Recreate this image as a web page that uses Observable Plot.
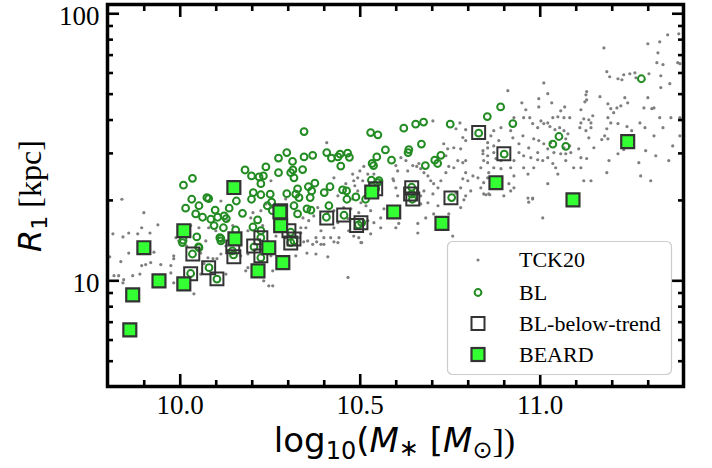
<!DOCTYPE html>
<html>
<head>
<meta charset="utf-8">
<script src="https://cdn.jsdelivr.net/npm/d3@7"></script>
<script src="https://cdn.jsdelivr.net/npm/@observablehq/plot@0.6"></script>
<style>
html, body { margin: 0; padding: 0; background: #ffffff; }
#chart { width: 712px; height: 468px; overflow: hidden; }
</style>
</head>
<body>
<div id="chart"></div>
<script>
// ---------- data ----------
const tckMass = [9.804,9.857,9.835,9.816,9.829,9.843,9.841,9.868,9.888,9.893,9.904,9.918,9.946,9.974,9.974,9.982,9.982,9.927,9.982,10.038,
9.996,10.057,10.091,10.102,10.113,10.066,10.057,10.127,10.182,10.232,10.246,10.257,10.257,10.321,10.168,10.188,10.252,10.352,10.410,10.466,
10.504,10.391,10.379,10.427,10.438,10.343,9.838,9.899,9.938,9.893,9.882,9.857,9.841,9.813,9.916,9.910,9.988,10.018,10.052,10.079,
10.132,10.146,10.188,10.202,10.224,10.238,10.196,10.188,10.077,10.271,10.293,10.788,10.779,10.849,10.860,10.899,10.918,10.968,10.979,11.007,
10.807,10.407,10.427,10.499,10.510,10.485,10.493,10.604,10.593,10.599,10.604,10.593,10.604,10.607,10.599,10.557,10.557,10.529,10.566,10.521,
10.502,10.482,10.468,10.441,10.438,10.418,10.399,10.391,10.377,10.357,10.349,10.335,10.329,10.368,10.377,10.632,10.646,10.657,10.668,10.677,
10.688,10.696,10.704,10.716,10.724,10.738,10.746,10.760,10.771,10.785,10.793,10.793,10.785,10.779,10.766,10.799,10.813,10.827,10.835,10.843,
10.854,10.877,10.871,10.857,10.843,10.835,10.793,10.757,10.724,10.660,10.660,10.682,10.704,10.746,10.716,10.688,10.668,10.668,10.677,10.702,
10.779,10.793,10.785,10.760,10.743,10.738,10.716,10.702,10.777,10.766,10.841,10.854,10.871,10.885,10.854,10.793,10.732,10.663,10.627,10.613,
10.599,10.591,10.557,10.538,10.521,10.507,10.493,10.479,10.482,10.460,10.438,10.479,10.502,10.516,10.496,10.474,10.454,10.427,10.410,10.382,
10.371,10.341,10.466,10.502,10.529,10.538,10.427,10.496,10.335,10.399,10.354,10.316,10.293,11.354,11.332,11.299,11.177,11.327,11.324,11.341,
11.382,11.388,11.185,11.193,11.216,11.227,11.232,11.249,11.263,11.266,11.302,11.335,11.360,11.010,10.910,11.021,11.129,11.127,11.166,11.235,
11.243,11.188,11.224,11.213,11.196,11.299,11.288,11.316,11.310,11.332,11.363,11.388,11.341,11.316,11.388,11.277,11.291,11.254,11.241,11.216,
11.196,11.188,11.204,11.185,11.179,11.188,11.171,11.129,11.124,11.113,11.121,11.113,11.110,11.141,11.141,11.146,11.135,11.127,11.135,11.149,
11.129,11.113,11.107,11.082,11.085,11.071,11.071,11.077,11.082,11.066,11.068,11.049,11.041,11.035,11.021,11.027,11.002,11.010,10.993,10.979,
10.971,10.954,10.949,10.960,10.996,10.996,11.032,11.054,11.057,11.066,10.927,10.918,10.891,10.871,10.863,10.854,10.871,10.891,10.918,10.891,
10.927,10.913,10.927,10.966,10.982,10.993,11.007,11.021,11.035,11.043,11.021,11.049,11.057,11.071,11.093,11.113,11.121,11.141,11.185,11.191,
11.216,11.232,11.274,11.293,10.966,10.979,10.843,10.857,10.854,10.841,10.924,10.941,10.952,10.968,10.982,10.996,11.010,11.021,11.029,10.993,
10.954,10.941,10.927,10.954,10.974,11.066,11.038,11.335,11.321,11.357,11.368,11.279,11.307,11.385,10.099,10.168,10.229,10.266,10.293,10.252,
10.127,10.071,10.029,10.154,10.113,10.252];
const tckR = [12.3,12.7,11.8,10.45,10.45,10.1,9.83,10.45,10.6,11.4,11.5,11.7,11.5,11.4,10.7,12.4,12.1,12.8,9.83,8.94,
14.1,12.7,12.1,12.1,12.6,11.6,10.6,10.6,10.9,10.0,9.58,9.58,10.9,12.4,12.4,12.6,12.4,12.7,12.3,10.3,
13.9,13.7,14.0,14.0,13.9,14.0,20.2,18.0,16.2,15.8,15.0,15.1,14.6,15.0,15.1,13.2,14.5,13.5,15.8,15.8,
16.8,16.1,15.4,18.0,18.3,19.4,17.2,11.2,12.2,16.8,20.25,20.1,18.8,21.0,21.0,20.8,21.7,19.7,20.4,17.2,
21.7,32.9,24.3,25.8,26.8,22.7,21.7,25.8,23.7,22.3,20.8,18.8,17.8,16.4,15.8,17.2,15.8,15.0,18.6,16.8,
13.9,14.7,15.4,14.5,16.5,14.5,14.5,15.4,14.5,16.8,15.8,15.8,14.5,13.7,12.6,25.8,27.0,26.8,26.3,25.4,
24.7,23.7,23.1,22.3,23.7,25.4,26.8,26.5,28.2,27.7,28.2,25.4,24.1,22.3,21.3,23.7,24.7,24.3,26.5,28.2,
29.4,28.7,26.5,25.4,23.3,22.3,20.8,14.7,15.8,16.4,15.1,17.2,17.8,17.8,19.1,19.6,19.4,20.8,21.7,21.15,
31.2,33.5,34.4,31.5,31.2,29.4,28.9,39.7,39.0,37.1,30.7,32.9,32.0,33.5,27.7,36.8,32.6,27.5,28.2,28.9,
27.0,24.1,23.7,25.1,25.1,23.7,24.3,25.1,23.7,23.1,20.8,20.25,19.6,19.1,18.0,18.6,18.8,18.3,18.0,18.8,
17.5,17.2,17.1,16.1,18.3,16.5,15.8,14.5,15.1,13.7,14.1,15.1,14.5,83.4,78.5,77.2,74.5,71.4,65.6,64.5,
65.6,65.0,60.7,58.1,57.1,56.6,59.1,59.6,60.1,57.6,59.6,58.6,54.7,55.1,51.5,50.2,51.1,49.7,48.9,48.5,
46.4,46.0,45.2,44.4,44.1,48.5,44.4,44.4,44.1,40.8,40.8,40.8,37.45,34.9,34.9,39.0,37.45,36.5,37.8,38.8,
39.0,40.8,42.6,37.1,34.9,34.0,33.8,47.6,46.8,43.7,40.4,39.0,37.45,37.45,39.0,41.5,40.1,36.5,34.3,31.5,
28.7,28.9,31.2,32.0,30.2,29.9,34.0,35.5,40.8,40.8,44.8,41.1,36.8,40.8,39.0,37.8,39.7,38.8,37.45,38.8,
40.8,40.8,46.4,43.7,44.8,48.1,46.4,37.45,43.3,36.5,40.8,36.5,37.45,36.5,34.9,31.45,30.2,28.2,26.5,26.3,
24.7,23.1,22.3,25.1,26.5,28.4,28.2,28.9,27.5,26.5,23.1,25.1,29.9,28.2,26.5,26.5,23.7,23.7,25.4,28.2,
29.9,31.0,27.7,30.7,20.4,20.25,21.15,21.15,24.3,29.9,34.3,32.6,34.9,31.45,34.0,33.5,32.6,31.2,32.9,30.2,
29.4,30.2,28.2,26.5,28.9,31.45,30.2,52.9,29.4,28.2,32.0,24.7,23.7,84.1,15.4,14.7,16.1,14.7,17.5,13.5,
13.5,14.1,16.1,22.7,19.9,23.7];

const blMass = [10.009,10.034,10.032,10.015,10.074,10.079,10.052,10.043,10.062,10.097,10.104,10.085,10.094,10.122,10.128,10.120,10.136,10.156,10.173,10.180,
10.198,10.219,10.231,10.238,10.224,10.203,10.198,10.224,10.250,10.273,10.296,10.312,10.307,10.316,10.273,10.254,10.242,10.256,10.296,10.326,
10.330,10.215,10.202,10.224,10.046,10.052,10.110,10.113,10.154,10.008,10.034,10.145,10.148,10.205,10.224,10.313,10.344,10.344,10.368,10.340,
10.321,10.356,10.374,10.365,10.361,10.352,10.363,10.326,10.316,10.407,10.420,10.438,10.444,10.465,10.470,10.446,10.416,10.400,10.451,10.462,
10.463,10.488,10.515,10.413,10.455,10.406,10.495,10.504,10.529,10.549,10.546,10.570,10.587,10.533,10.537,10.531,10.548,10.552,10.621,10.654,
10.676,10.670,10.635,10.633,10.681,10.707,10.715,10.724,10.750,10.853,10.643,10.643,10.645,10.754,10.829,10.890,10.316,10.307,10.924,10.900,
11.035,11.052,11.071,11.281,10.006,10.051,10.029,10.080,10.102,10.113,10.224,10.307,10.543,10.279];
const blR = [22.8,24.2,20.2,18.7,20.5,20.3,19.1,17.8,17.3,18.4,17.3,17.0,16.1,17.5,17.1,15.8,18.7,19.9,17.9,26.0,
24.7,24.5,24.7,26.7,23.1,21.4,20.2,21.0,21.1,28.8,30.2,28.0,25.4,24.3,25.4,19.7,19.1,18.3,21.2,22.1,
20.5,16.9,15.9,15.4,14.6,13.3,14.5,14.4,15.5,14.2,12.6,12.95,12.5,13.4,12.2,26.0,36.2,29.1,29.5,26.1,
21.1,22.5,23.2,21.7,20.5,18.6,18.4,17.8,19.1,30.2,28.8,29.1,29.8,30.05,29.0,26.9,22.5,21.4,21.9,21.7,
20.2,20.6,20.2,19.1,17.6,17.3,16.2,16.5,35.9,35.2,29.1,30.9,28.3,27.5,27.0,23.8,23.3,23.7,37.3,38.6,
39.3,32.5,31.0,30.2,27.0,28.3,27.5,29.5,38.6,41.2,22.4,21.1,20.2,20.5,35.7,44.8,14.1,15.2,38.8,29.8,
32.5,34.7,31.85,57.1,13.9,13.4,10.65,11.2,10.15,14.1,14.5,13.9,22.1,18.0];

const belowMass = [10.035,10.029,10.079,10.102,10.146,10.149,10.204,10.224,10.224,10.307,10.302,10.316,10.407,10.454,10.490,10.502,10.643,10.640,10.646,10.752,10.829,10.899,10.543,10.279];
const belowR    = [12.6,10.63,11.2,10.17,13.4,12.3,13.5,14.5,12.4,13.86,15.4,14.35,17.2,17.65,16.1,16.5,22.3,21.15,20.25,20.44,35.9,29.9,22.1,18.3];

const beardMass = [9.860,9.868,9.899,9.941,10.010,10.010,10.149,10.152,10.246,10.216,10.285,10.277,10.279,10.532,10.593,10.727,10.877,11.091,11.243];
const beardR    = [6.55,8.86,13.3,10.0,9.74,15.4,22.35,14.35,13.3,10.9,11.7,18.1,16.1,21.5,18.1,16.4,23.3,20.1,33.2];

const xMajorTicks = [10.0, 10.5, 11.0];
const xMinorTicks = [9.9, 10.1, 10.2, 10.3, 10.4, 10.6, 10.7, 10.8, 10.9, 11.1, 11.2, 11.3];
const yMajorTicks = [10, 100];
const yMinorTicks = [5, 6, 7, 8, 9, 20, 30, 40, 50, 60, 70, 80, 90];
const legendLabels = ["TCK20", "BL", "BL-below-trend", "BEARD"];

// ---------- tables ----------
const toRows = (ms, rs) => ms.map((m, i) => ({m, r: rs[i]}));
const tck = toRows(tckMass, tckR);
const bl = toRows(blMass, blR);
const below = toRows(belowMass, belowR);
const beard = toRows(beardMass, beardR);

// ---------- styles ----------
const C = {gray: "#7f7f7f", green: "#228b22", edge: "#333333", lime: "#33ff33"};
const SERIF = "Liberation Serif, Times New Roman, serif";
const SANS = "DejaVu Sans, sans-serif";
const tickStroke = {stroke: "black", strokeWidth: 2.6, fill: "none"};
const circR = 3.4, circW = 2, sqR = 7.3, sqSide = 13;

const chart = Plot.plot({
  width: 712,
  height: 468,
  marginTop: 4,
  marginLeft: 107,
  marginRight: 29,
  marginBottom: 82,
  x: {domain: [9.798, 11.398], axis: null},
  y: {type: "log", domain: [4.02, 108.3], axis: null},
  style: {background: "#ffffff", color: "black", fontFamily: SERIF, overflow: "visible"},
  marks: [
    Plot.dot(tck, {x: "m", y: "r", r: 1.6, fill: C.gray, stroke: "none"}),
    Plot.dot(bl, {x: "m", y: "r", r: circR, fill: "none", stroke: C.green, strokeWidth: circW}),
    Plot.dot(below, {x: "m", y: "r", symbol: "square", r: sqR, fill: "none", stroke: C.edge, strokeWidth: 2}),
    Plot.dot(beard, {x: "m", y: "r", symbol: "square", r: sqR, fill: C.lime, stroke: C.edge, strokeWidth: 2.2}),
    // inward ticks on all four sides
    Plot.axisX(xMajorTicks, {anchor: "bottom", tickSize: -12, ...tickStroke}),
    Plot.axisX(xMinorTicks, {anchor: "bottom", tickSize: -6, ...tickStroke}),
    Plot.axisX(xMajorTicks, {anchor: "top", tickSize: -12, ...tickStroke}),
    Plot.axisX(xMinorTicks, {anchor: "top", tickSize: -6, ...tickStroke}),
    Plot.axisY(yMajorTicks, {anchor: "left", tickSize: -12, ...tickStroke}),
    Plot.axisY(yMinorTicks, {anchor: "left", tickSize: -6, ...tickStroke}),
    Plot.axisY(yMajorTicks, {anchor: "right", tickSize: -12, ...tickStroke}),
    Plot.axisY(yMinorTicks, {anchor: "right", tickSize: -6, ...tickStroke}),
    // tick labels
    Plot.axisX(xMajorTicks, {anchor: "bottom", tickSize: 0, tickPadding: 8, tickFormat: d => d.toFixed(1), label: null, fontSize: 27, fontFamily: SERIF, fill: "black"}),
    Plot.axisY(yMajorTicks, {anchor: "left", tickSize: 0, tickPadding: 8, dy: 2.5, tickFormat: d => String(d), label: null, fontSize: 27, fontFamily: SERIF, fill: "black"}),
    Plot.frame({stroke: "black", strokeWidth: 3.5})
  ]
});
document.getElementById("chart").appendChild(chart);

// ---------- axis titles (rich text) ----------
const svg = d3.select(chart);
const xl = svg.append("text")
  .attr("x", 394.5).attr("y", 452)
  .attr("text-anchor", "middle")
  .attr("font-family", SANS).attr("font-size", 34).attr("fill", "black")
  .style("white-space", "pre");
xl.append("tspan").text("log");
xl.append("tspan").attr("font-size", 24).attr("dy", 7).text("10");
xl.append("tspan").attr("dy", -7).text("(");
xl.append("tspan").attr("font-style", "italic").text("M");
xl.append("tspan").attr("font-size", 24).attr("dy", 4).text("\u2217");
xl.append("tspan").attr("dy", -4).text(" [");
xl.append("tspan").attr("font-style", "italic").text("M");
xl.append("tspan").attr("font-size", 24).attr("dy", 6).text("\u2299");
xl.append("tspan").attr("dy", -6).attr("font-family", SERIF).text("])");

const yl = svg.append("text")
  .attr("transform", "translate(41,196) rotate(-90)")
  .attr("text-anchor", "middle")
  .attr("font-size", 32).attr("fill", "black")
  .style("white-space", "pre");
yl.append("tspan").attr("font-family", SANS).attr("font-style", "italic").text("R");
yl.append("tspan").attr("font-family", SANS).attr("font-size", 22).attr("dy", 6).text("1");
yl.append("tspan").attr("font-family", SERIF).attr("dy", -6).text(" [kpc]");

// ---------- legend ----------
const lg = svg.append("g").attr("transform", "translate(447.5,241.5)");
lg.append("rect").attr("width", 224).attr("height", 133).attr("rx", 5)
  .attr("fill", "white").attr("fill-opacity", 0.85)
  .attr("stroke", "#cccccc").attr("stroke-width", 1.2);
const rowsY = [18.5, 51, 82, 113];
const mx = 30.5, tx = 71.5;
lg.append("circle").attr("cx", mx).attr("cy", rowsY[0]).attr("r", 1.6).attr("fill", C.gray);
lg.append("circle").attr("cx", mx).attr("cy", rowsY[1]).attr("r", circR).attr("fill", "none").attr("stroke", C.green).attr("stroke-width", circW);
lg.append("rect").attr("x", mx - sqSide / 2).attr("y", rowsY[2] - sqSide / 2).attr("width", sqSide).attr("height", sqSide).attr("fill", "none").attr("stroke", C.edge).attr("stroke-width", 2);
lg.append("rect").attr("x", mx - sqSide / 2).attr("y", rowsY[3] - sqSide / 2).attr("width", sqSide).attr("height", sqSide).attr("fill", C.lime).attr("stroke", C.edge).attr("stroke-width", 2.2);
legendLabels.forEach((t, i) => {
  lg.append("text").attr("x", tx).attr("y", rowsY[i] + 7)
    .attr("text-anchor", "start")
    .attr("font-family", SERIF).attr("font-size", 22).attr("fill", "black").text(t);
});
</script>
</body>
</html>
